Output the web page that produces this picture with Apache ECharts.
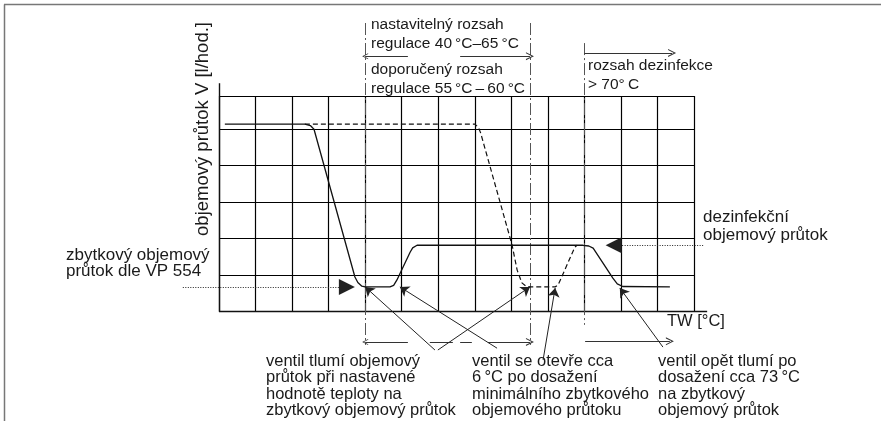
<!DOCTYPE html>
<html>
<head>
<meta charset="utf-8">
<script src="https://cdn.jsdelivr.net/npm/echarts@6/dist/echarts.min.js"></script>
<style>
  html, body { margin: 0; padding: 0; background: #fff; }
  #chart { width: 881px; height: 421px; }
</style>
</head>
<body>
<div id="chart"></div>
<script>
// grid units: one cell = 1 on both axes
const solidCurve = [[0.16, 5.14], [2.35, 5.14], [2.5, 5.1], [2.6, 5.0], [3.72, 0.95], [3.8, 0.8], [3.91, 0.7], [4.0, 0.68],
    [4.68, 0.68], [4.78, 0.72], [4.87, 0.87], [5.23, 1.63], [5.3, 1.75], [5.42, 1.82], [9.96, 1.82], [10.12, 1.8],
    [10.24, 1.74], [10.78, 0.92], [10.9, 0.76], [11.05, 0.69], [12.34, 0.68]];
const dashedCurve = [[2.35, 5.14], [7.0, 5.14], [7.1, 5.05], [7.16, 4.9], [8.02, 1.83], [8.16, 1.14], [8.29, 0.79],
    [8.4, 0.7], [8.51, 0.68], [9.2, 0.68], [9.28, 0.73], [9.74, 1.77], [9.8, 1.82]];

// dash-dot range markers
const rangeMarkers = [[[4.0, 7.91], [4.0, -0.91]], [[8.51, 7.91], [8.51, -0.91]], [[10.0, 7.36], [10.0, -0.36]]];

// dimension arrows: [coords, arrow at start, arrow at end]
const dimensions = [
    [[[4.0, 7.0], [5.17, 7.0]], true, false],
    [[[6.6, 7.0], [8.51, 7.0]], false, true],
    [[[10.0, 7.09], [12.4, 7.09]], false, true],
    [[[4.0, -0.83], [5.17, -0.83]], true, false],
    [[[5.77, -0.83], [6.4, -0.83]], false, false],
    [[[6.6, -0.83], [6.92, -0.83]], false, false],
    [[[7.36, -0.83], [8.51, -0.83]], false, true],
    [[[10.02, -0.81], [12.34, -0.81]], false, true]
];

// leader lines from notes to curve points
const leaders = [
    [[5.91, -1.05], [4.0, 0.68]],
    [[5.99, -1.05], [8.51, 0.68]],
    [[7.61, -1.0], [4.95, 0.68]],
    [[8.87, -1.32], [9.2, 0.65]],
    [[12.15, -0.97], [10.97, 0.65]]
];

// dotted pointers to the flow levels
const levelPointers = [[[-0.99, 0.68], [3.5, 0.68]], [[13.25, 1.82], [10.8, 1.82]]];

const axisLines = [[[0, 0], [0, 6.26]], [[0, 0], [13.36, 0]]];

const xCells = 13;
const yTop = 5.91;

const FONT = '"Liberation Sans", Arial, sans-serif';
const INK = '#1a1a1a';
const CHEVRON = 'path://M0,10L5,0L10,10L8.6,10L5,2.8L1.4,10Z';

const chart = echarts.init(document.getElementById('chart'));

function txt(x, y, text, size, lh) {
    return {
        type: 'text', x: x, y: y, silent: true,
        style: { text: text, font: size + 'px ' + FONT, fill: INK, lineHeight: lh }
    };
}

chart.setOption({
    animation: false,
    grid: { left: 219, top: 96, width: 475, height: 215.7 },
    xAxis: {
        type: 'value', min: 0, max: xCells, interval: 1,
        axisLine: { show: false }, axisTick: { show: false }, axisLabel: { show: false },
        splitLine: { show: true, lineStyle: { color: '#000', width: 1.2 } }
    },
    yAxis: {
        type: 'value', min: 0, max: yTop, interval: 1,
        axisLine: { show: false }, axisTick: { show: false }, axisLabel: { show: false },
        splitLine: { show: true, lineStyle: { color: '#000', width: 1.2 } }
    },
    graphic: [
        { type: 'line', silent: true, shape: { x1: 4, y1: 4.5, x2: 881, y2: 4.5 }, style: { stroke: '#777', lineWidth: 1.5 } },
        { type: 'line', silent: true, shape: { x1: 4.5, y1: 4.5, x2: 4.5, y2: 421 }, style: { stroke: '#777', lineWidth: 1.5 } },
        txt(371, 15, 'nastavitelný rozsah\nregulace 40\u2009°C\u201365\u2009°C', 15.5, 19),
        txt(371, 60, 'doporučený rozsah\nregulace 55\u2009°C\u2009\u2013\u200960\u2009°C', 15.5, 19),
        txt(588, 56, 'rozsah dezinfekce\n> 70°\u2009C', 15.5, 19),
        {
            type: 'text', x: 203, y: 129, rotation: Math.PI / 2, silent: true,
            style: { text: 'objemový průtok V [l/hod.]', font: '18.5px ' + FONT, fill: INK, align: 'center', verticalAlign: 'middle' }
        },
        txt(66, 247, 'zbytkový objemový\nprůtok dle VP 554', 17, 16),
        txt(703, 208, 'dezinfekční\nobjemový průtok', 17, 18),
        txt(667, 313, 'TW [°C]', 16.5, 17),
        txt(266, 353, 'ventil tlumí objemový\nprůtok při nastavené\nhodnotě teploty na\nzbytkový objemový průtok', 16.5, 16.4),
        txt(472, 353, 'ventil se otevře cca\n6\u2009°C po dosažení\nminimálního zbytkového\nobjemového průtoku', 16.5, 16.4),
        txt(658, 353, 'ventil opět tlumí po\ndosažení cca 73\u2009°C\nna zbytkový\nobjemový průtok', 16.5, 16.4)
    ],
    series: [
        {
            type: 'lines', coordinateSystem: 'cartesian2d', clip: false, silent: true, z: 3,
            lineStyle: { color: '#111', width: 1.4, opacity: 1 },
            data: axisLines.map(c => ({ coords: c }))
        },
        {
            type: 'lines', coordinateSystem: 'cartesian2d', clip: false, silent: true, z: 3,
            lineStyle: { color: '#555', width: 1, type: [12, 3, 2, 3], opacity: 1 },
            data: rangeMarkers.map(c => ({ coords: c }))
        },
        {
            type: 'lines', coordinateSystem: 'cartesian2d', clip: false, silent: true, z: 4,
            lineStyle: { color: '#333', width: 1, opacity: 1 },
            symbolSize: [6, 8],
            data: dimensions.map(d => ({
                coords: d[0],
                symbol: [d[1] ? CHEVRON : 'none', d[2] ? CHEVRON : 'none']
            }))
        },
        {
            type: 'lines', coordinateSystem: 'cartesian2d', clip: false, silent: true, z: 4,
            lineStyle: { color: '#222', width: 1, opacity: 1 },
            symbol: ['none', 'arrow'], symbolSize: [5, 9],
            data: leaders.map(c => ({ coords: c }))
        },
        {
            type: 'lines', coordinateSystem: 'cartesian2d', clip: false, silent: true, z: 4,
            lineStyle: { color: '#222', width: 1, type: [1, 1.5], opacity: 1 },
            symbol: ['none', 'triangle'], symbolSize: [7, 16],
            data: levelPointers.map(c => ({ coords: c }))
        },
        {
            name: 'solid', type: 'line', data: solidCurve, showSymbol: false, clip: false, z: 5,
            lineStyle: { color: '#111', width: 1.3 }
        },
        {
            name: 'dashed', type: 'line', data: dashedCurve, showSymbol: false, clip: false, z: 5,
            lineStyle: { color: '#111', width: 1.2, type: [5, 3] }
        }
    ]
});
</script>
</body>
</html>
